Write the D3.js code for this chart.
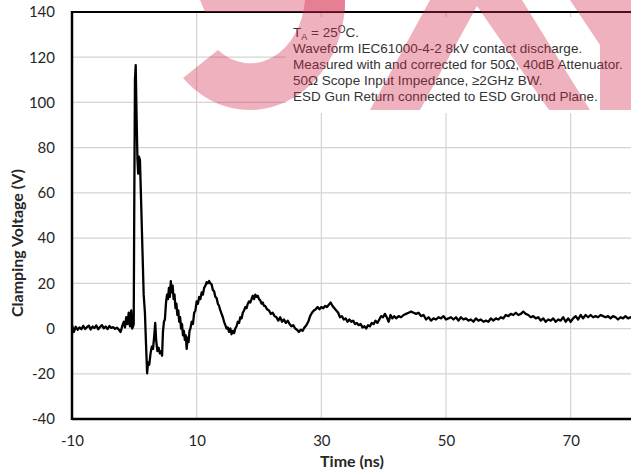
<!DOCTYPE html>
<html><head><meta charset="utf-8">
<script src="https://cdn.jsdelivr.net/npm/d3@7"></script>
<style>body{margin:0;background:#fff}svg{display:block}</style>
</head><body>
<script>
const xTicks = [-10, 10, 30, 50, 70];
const yTicks = [-40, -20, 0, 20, 40, 60, 80, 100, 120, 140];
const xTitle = "Time (ns)";
const yTitle = "Clamping Voltage (V)";
const notes = ["Waveform IEC61000-4-2 8kV contact discharge.",
  "Measured with and corrected for 50Ω, 40dB Attenuator.",
  "50Ω Scope Input Impedance, ≥2GHz BW.",
  "ESD Gun Return connected to ESD Ground Plane."];
// [time ns, clamping voltage V]
const waveform = [
[-10,1.5],[-9.7,-1.5],[-9.4,0.8],[-9.1,-0.5],[-8.8,0.5],[-8.5,-0.3],[-8.2,1.2],[-7.9,-0.2],[-7.6,0.6],[-7.3,1.3],
[-7.0,-0.4],[-6.7,0.9],[-6.4,0.2],[-6.1,1.4],[-5.8,-0.3],[-5.5,0.7],[-5.2,1.5],[-4.9,0.1],[-4.6,0.9],[-4.3,-0.2],
[-4.0,1.1],[-3.7,0.3],[-3.4,0.6],[-3.1,-0.1],[-2.8,0.4],[-2.5,-0.4],[-2.2,-1.5],[-1.9,1.5],[-1.7,3],[-1.5,0.5],
[-1.3,5],[-1.1,2],[-0.9,7],[-0.7,1],[-0.5,8],[-0.35,0],[-0.2,1],[-0.1,2],[0.0,60],[0.1,110],[0.22,116.5],
[0.35,95],[0.5,75],[0.62,68.5],[0.75,76],[0.9,74.5],[1.05,60],[1.3,35],[1.5,15],[1.7,7],[1.85,-5],[2.05,-19.8],
[2.2,-15],[2.4,-16],[2.6,-11],[2.8,-8],[3.0,-9],[3.2,-3],[3.35,2.5],[3.5,-5],[3.7,-10],[3.9,-8.5],[4.1,-11],
[4.3,-10],[4.45,-12],[4.6,-1],[4.75,3],[4.9,4],[5.1,12],[5.25,15],[5.4,13],[5.55,18],[5.7,14],[5.85,21],[6.0,16],
[6.15,19],[6.3,13],[6.45,15],[6.6,9],[6.75,11],[6.9,6],[7.05,8],[7.2,3],[7.35,5],[7.5,0],[7.65,2],[7.8,-3],
[7.95,-1],[8.1,-5],[8.25,-3],[8.4,-9],[8.55,-4],[8.7,-6],[8.85,-1],[9.0,0],[9.2,3],[9.4,2],[9.6,7],[9.8,8],
[10.0,12],[10.2,11],[10.4,14],[10.6,13],[10.8,16],[11.0,15],[11.2,18],[11.4,19],[11.6,20.5],[11.8,20],[12.0,21],
[12.2,20],[12.4,19.5],[12.6,17],[12.8,16.5],[13.0,14],[13.2,13.5],[13.4,11],[13.6,10],[13.8,8],[14.0,6.5],
[14.2,5],[14.4,3],[14.6,1.5],[14.8,0],[15.0,0.5],[15.2,-1.5],[15.4,0],[15.6,-2.5],[15.8,-1],[16.0,-2],[16.2,0],
[16.4,1],[16.6,3],[16.8,2.5],[17.0,5],[17.2,4.5],[17.4,7],[17.6,8],[17.8,9.5],[18.0,9],[18.2,11],[18.4,12],
[18.6,11.5],[18.8,13],[19.0,14.5],[19.2,13],[19.4,15],[19.6,14],[19.8,14.5],[20.0,13],[20.2,12.5],[20.4,11],
[20.6,11.5],[20.8,10],[21.0,10],[21.3,8.5],[21.6,8],[21.9,6.5],[22.2,7],[22.5,5.5],[22.8,5],[23.1,3.5],[23.4,5],
[23.7,3],[24.0,4],[24.3,2.5],[24.6,3.5],[24.9,2],[25.2,1],[25.5,1.5],[25.8,0],[26.1,-0.5],[26.4,-1.5],[26.7,-0.5],
[27.0,-1],[27.3,0.5],[27.6,1.5],[27.9,3],[28.2,5.5],[28.5,7],[28.8,8],[29.1,8.5],[29.4,9.5],[29.7,8.5],[30.0,9.5],
[30.3,9],[30.6,10],[30.9,9.5],[31.2,10.5],[31.5,11.5],[31.8,10],[32.1,9],[32.4,8],[32.7,7],[33.0,5],[33.3,5.5],
[33.6,4],[33.9,4.5],[34.2,3],[34.5,4],[34.8,3],[35.1,3.5],[35.4,2],[35.7,2.5],[36.0,1.5],[36.3,2],[36.6,0.5],
[36.9,1],[37.2,0],[37.5,1.5],[37.8,1],[38.1,2.5],[38.4,2],[38.7,3.5],[39.0,2.5],[39.3,4],[39.6,5.5],[39.9,5],
[40.2,6.5],[40.5,5],[40.8,3],[41.1,6],[41.4,4.5],[41.7,5.5],[42.0,4.5],[42.4,5.5],[42.8,5],[43.2,6],[43.6,6.5],
[44.0,7],[44.4,7.5],[44.8,7],[45.2,6.5],[45.6,7],[46.0,5.5],[46.4,6],[46.8,4],[47.2,5],[47.6,3.5],[48.0,4.5],
[48.4,4],[48.8,5],[49.2,4.5],[49.6,5.5],[50.0,4],[50.4,4.5],[50.8,5],[51.2,4],[51.6,5],[52.0,3.5],[52.4,5],
[52.8,4],[53.2,4.5],[53.6,3.5],[54.0,4],[54.4,3],[54.8,4.5],[55.2,3.5],[55.6,4],[56.0,3],[56.4,3.5],[56.8,3],
[57.2,4.5],[57.6,3.5],[58.0,4.5],[58.4,4],[58.8,5],[59.2,4.5],[59.6,6],[60.0,5.5],[60.4,6.5],[60.8,6],[61.2,7],
[61.6,6],[62.0,6.5],[62.4,7.5],[62.8,6.5],[63.2,6],[63.6,5],[64.0,5.5],[64.4,4.5],[64.8,5],[65.2,3.5],[65.6,4.5],
[66.0,3],[66.4,4],[66.8,3.5],[67.2,4.5],[67.6,3],[68.0,4],[68.4,3.5],[68.8,5],[69.2,3],[69.6,4.5],[70.0,3],
[70.4,4.5],[70.8,5.5],[71.2,4],[71.6,6],[72.0,4.5],[72.4,6],[72.8,5],[73.2,6],[73.6,5],[74.0,5.5],[74.4,5],
[74.8,6],[75.2,5.5],[75.6,5],[76.0,5.5],[76.4,4.5],[76.8,5.5],[77.2,5],[77.6,4],[78.0,5],[78.4,4.5],[78.8,5.5],
[79.2,4.5],[79.6,5],[80.0,4.5]];

const W = 631, H = 471;
const svg = d3.select("body").append("svg").attr("width", W).attr("height", H);
const x = d3.scaleLinear().domain([-10, 80]).range([72, 633]);
const y = d3.scaleLinear().domain([-40, 140]).range([419, 12]);

// gridlines
const grid = svg.append("g");
grid.selectAll("line.h").data(yTicks).join("line")
  .attr("x1", x(-10)).attr("x2", x(80)).attr("y1", d => y(d)).attr("y2", d => y(d))
  .attr("stroke", "#d4d4d4").attr("stroke-width", 1.2);
grid.selectAll("line.v").data(xTicks).join("line")
  .attr("x1", d => x(d)).attr("x2", d => x(d)).attr("y1", y(140)).attr("y2", y(-40))
  .attr("stroke", "#d4d4d4").attr("stroke-width", 1.2);

// annotation background
svg.append("rect").attr("x", 286).attr("y", 17).attr("width", 360).attr("height", 96).attr("fill", "#fff");

// axes
const fmt = d => String(d);
const yAxis = d3.axisLeft(y).tickValues(yTicks).tickFormat(fmt).tickSize(0).tickPadding(17);
const xAxis = d3.axisBottom(x).tickValues(xTicks).tickFormat(fmt).tickSize(0).tickPadding(16);
const gy = svg.append("g").attr("transform", `translate(${x(-10)},0)`).call(yAxis);
const gx = svg.append("g").attr("transform", `translate(0,${y(-40)})`).call(xAxis);
[gx, gy].forEach(g => {
  g.select(".domain").remove();
  g.selectAll("text").attr("font-family", "Lato, 'Open Sans', sans-serif").attr("font-size", 15).attr("fill", "#262626");
});

// data line
const line = d3.line().x(d => x(d[0])).y(d => y(d[1]));
svg.append("path").datum(waveform).attr("d", line)
  .attr("fill", "none").attr("stroke", "#000").attr("stroke-width", 2.3).attr("stroke-linejoin", "round");

// frame
svg.append("line").attr("x1", x(-10)).attr("x2", x(80)).attr("y1", y(140)).attr("y2", y(140)).attr("stroke", "#000").attr("stroke-width", 2.2);
svg.append("line").attr("x1", x(-10)).attr("x2", x(80)).attr("y1", y(-40)).attr("y2", y(-40)).attr("stroke", "#000").attr("stroke-width", 2.5);
svg.append("line").attr("x1", x(-10)).attr("x2", x(-10)).attr("y1", y(140) - 1).attr("y2", y(-40) + 1).attr("stroke", "#000").attr("stroke-width", 2.5);

// annotation text
const ann = svg.append("text").attr("font-family", "'Liberation Sans', Arial, sans-serif").attr("font-size", 13.5).attr("fill", "#333");
const l0 = ann.append("tspan").attr("x", 293).attr("y", 37);
l0.append("tspan").text("T");
l0.append("tspan").attr("font-size", 9).attr("dy", 3).text("A");
l0.append("tspan").attr("dy", -3).text(" = 25");
l0.append("tspan").attr("font-size", 10).attr("dy", -4).text("O");
l0.append("tspan").attr("dy", 4).text("C.");
notes.forEach((t, i) => ann.append("tspan").attr("x", 293).attr("y", 53 + 16 * i).text(t));

// axis titles
svg.append("text").attr("x", 352).attr("y", 467).attr("text-anchor", "middle")
  .attr("font-family", "Lato, sans-serif").attr("font-weight", "bold").attr("font-size", 16).attr("fill", "#262626").text(xTitle);
svg.append("text").attr("transform", "translate(23,243) rotate(-90)").attr("text-anchor", "middle")
  .attr("font-family", "Lato, sans-serif").attr("font-weight", "bold").attr("font-size", 16).attr("fill", "#262626").text(yTitle);

// watermark overlay
const wm = svg.append("g").attr("fill", "#d4264a").attr("fill-opacity", 0.36);
wm.append("path").attr("d", "M345,0 A95,110 0 0 1 183,78 L218,50 A55,70 0 0 0 305,0 Z");
wm.append("path").attr("d", "M200,0 L345,0 L345,12 L205,12 Z");
wm.append("path").attr("d", "M430,0 L522,0 L590,110 L549,110 L477,6 L420,110 L370,110 Z");
wm.append("path").attr("d", "M570,0 L631,0 L631,110 L600,110 L600,45 Z");
</script>
</body></html>
